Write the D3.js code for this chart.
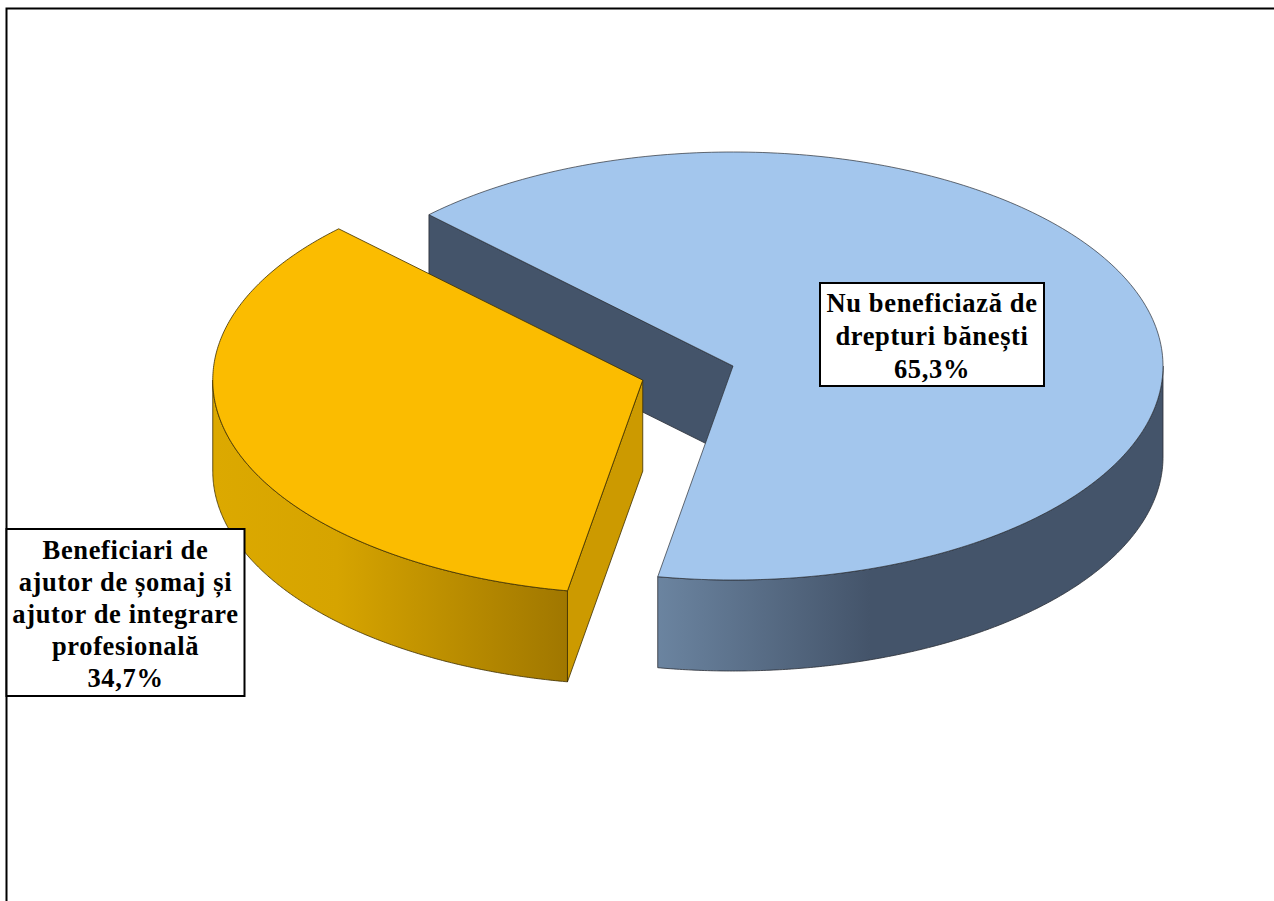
<!DOCTYPE html>
<html><head><meta charset="utf-8">
<script src="https://cdn.jsdelivr.net/npm/d3@7"></script>
<style>html,body{margin:0;padding:0;background:#fff;overflow:hidden}svg{display:block}</style>
</head><body>
<svg id="c" width="1274" height="901"></svg>
<script>
const categories = ["Nu beneficiază de drepturi bănești", "Beneficiari de ajutor de șomaj și ajutor de integrare profesională"];
const values = [65.3, 34.7];
const labelLines = [
  ["Nu beneficiază de", "drepturi bănești", "65,3%"],
  ["Beneficiari de", "ajutor de șomaj și", "ajutor de integrare", "profesională", "34,7%"]
];
const topColors = ["#a3c6ed", "#fbbc00"];
const cutColors = ["#44546a", "#cc9a00"];
const sideStops = [
  [["0%", "#6b84a0"], ["42%", "#44546a"], ["100%", "#44546a"]],
  [["0%", "#dca900"], ["35%", "#d6a400"], ["100%", "#a07700"]]
];
const explode = [0, 0.22];
const labelBoxes = [
  {x: 820, y: 283, w: 224, h: 103},
  {x: 6.5, y: 529, w: 238, h: 167}
];
const lineH = [33, 32];

const W = 1274, H = 901;
const cx = 733, cy = 366, rx = 430, ry = 214, depth = 91;
const firstAngle = 315 * Math.PI / 180 - 2 * Math.PI;

const svg = d3.select("#c");
const defs = svg.append("defs");
svg.append("rect").attr("x", 6.5).attr("y", 8.5).attr("width", W + 20).attr("height", H + 20)
  .attr("fill", "#fff").attr("stroke", "#000").attr("stroke-width", 2);

const pie = d3.pie().sort(null).startAngle(firstAngle).endAngle(firstAngle + 2 * Math.PI);
const arcs = pie(values).map((d, i) => {
  const mid = (d.startAngle + d.endAngle) / 2;
  return {
    ...d, i,
    ax: cx + Math.sin(mid) * explode[i] * rx,
    ay: cy - Math.cos(mid) * explode[i] * ry
  };
});
const px = (d, a) => d.ax + Math.sin(a) * rx;
const py = (d, a, dz = 0) => d.ay - Math.cos(a) * ry + dz;
const line = d3.line();
const angles = (a0, a1) => d3.range(0, 241).map(k => a0 + (a1 - a0) * k / 240);

function cutFace(d, a) {
  return line([[d.ax, d.ay], [px(d, a), py(d, a)], [px(d, a), py(d, a, depth)], [d.ax, d.ay + depth]]) + "Z";
}
function topFace(d) {
  return line([[d.ax, d.ay]].concat(angles(d.startAngle, d.endAngle).map(a => [px(d, a), py(d, a)]))) + "Z";
}
function outerSide(d) {
  // visible part of the rim: the front half of the ellipse, between 90° and 270°
  const a0 = Math.max(d.startAngle, Math.PI / 2), a1 = Math.min(d.endAngle, 3 * Math.PI / 2);
  const as = angles(a0, a1);
  const up = as.map(a => [px(d, a), py(d, a)]);
  const dn = as.slice().reverse().map(a => [px(d, a), py(d, a, depth)]);
  return {path: line(up.concat(dn)) + "Z", x0: Math.min(px(d, a0), px(d, a1)), x1: Math.max(px(d, a0), px(d, a1))};
}

const [blue, orange] = arcs;

arcs.forEach(d => {
  const s = outerSide(d);
  const g = defs.append("linearGradient").attr("id", "side" + d.i)
    .attr("gradientUnits", "userSpaceOnUse")
    .attr("x1", s.x0).attr("x2", s.x1).attr("y1", 0).attr("y2", 0);
  sideStops[d.i].forEach(st => g.append("stop").attr("offset", st[0]).attr("stop-color", st[1]));
});

const blueEdge = "#2b2f36", orangeEdge = "#3d2f00";
svg.append("path").attr("d", cutFace(blue, blue.startAngle)).attr("fill", cutColors[0]).attr("stroke", blueEdge).attr("stroke-width", 0.8);
svg.append("path").attr("d", outerSide(blue).path).attr("fill", "url(#side0)").attr("stroke", blueEdge).attr("stroke-width", 0.8);
svg.append("path").attr("d", topFace(blue)).attr("fill", topColors[0]).attr("stroke", blueEdge).attr("stroke-width", 0.7).attr("stroke-linejoin", "round");

svg.append("path").attr("d", outerSide(orange).path).attr("fill", "url(#side1)").attr("stroke", orangeEdge).attr("stroke-width", 0.8);
svg.append("path").attr("d", cutFace(orange, orange.startAngle)).attr("fill", cutColors[1]).attr("stroke", orangeEdge).attr("stroke-width", 0.8);
svg.append("path").attr("d", topFace(orange)).attr("fill", topColors[1]).attr("stroke", orangeEdge).attr("stroke-width", 0.8).attr("stroke-linejoin", "round");

labelBoxes.forEach((b, i) => {
  const g = svg.append("g");
  g.append("rect").attr("x", b.x).attr("y", b.y).attr("width", b.w).attr("height", b.h)
    .attr("fill", "#fff").attr("stroke", "#000").attr("stroke-width", 2);
  const n = labelLines[i].length;
  const top = b.y + b.h / 2 - n * lineH[i] / 2;
  g.selectAll("text").data(labelLines[i]).join("text")
    .attr("x", b.x + b.w / 2)
    .attr("y", (t, k) => top + lineH[i] * k + lineH[i] * 0.82)
    .attr("text-anchor", "middle")
    .attr("font-family", "'Liberation Serif', serif")
    .attr("font-weight", "bold")
    .attr("font-size", 26.5)
    .attr("letter-spacing", 0.65)
    .attr("fill", "#000")
    .text(t => t);
});
</script>
</body></html>
